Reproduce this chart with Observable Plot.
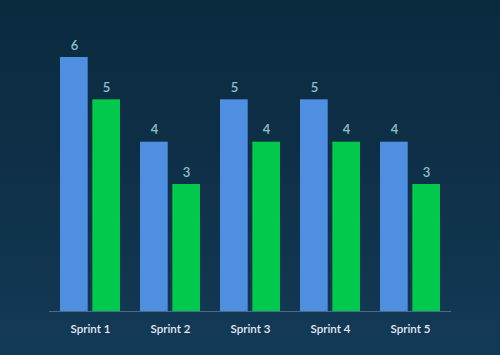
<!DOCTYPE html>
<html>
<head>
<meta charset="utf-8">
<script src="https://cdn.jsdelivr.net/npm/d3@7"></script>
<script src="https://cdn.jsdelivr.net/npm/@observablehq/plot@0.6"></script>
<style>
  html, body { margin: 0; padding: 0; }
  body {
    width: 500px; height: 355px; overflow: hidden;
    background: linear-gradient(180deg, #0a2a3e 0%, #0f3149 55%, #133a57 100%);
  }
  #chart svg { display: block; background: transparent; }
</style>
</head>
<body>
<div id="chart"></div>
<script>
const sprints = ["Sprint 1", "Sprint 2", "Sprint 3", "Sprint 4", "Sprint 5"];
const seriesA = [6, 4, 5, 5, 4];   // blue
const seriesB = [5, 3, 4, 4, 3];   // green

const dataA = sprints.map((s, i) => ({sprint: s, value: seriesA[i]}));
const dataB = sprints.map((s, i) => ({sprint: s, value: seriesB[i]}));

const blue = "#4f8fe2";
const green = "#00c94b";
const labelColor = "#8cc3cc";

const chart = Plot.plot({
  width: 500,
  height: 355,
  marginLeft: 49,
  marginRight: 49,
  marginTop: 57,
  marginBottom: 44,
  style: {background: "transparent", fontFamily: "Lato, 'Open Sans', sans-serif"},
  x: {domain: sprints, paddingInner: 0.25, paddingOuter: 0.125, label: null, tickSize: 0, tickPadding: 13},
  y: {domain: [0, 6], axis: null},
  marks: [
    Plot.barY(dataA, {x: "sprint", y: "value", fill: blue, insetRight: 32.3}),
    Plot.barY(dataB, {x: "sprint", y: "value", fill: green, insetLeft: 32.3}),
    Plot.text(dataA, {x: "sprint", y: "value", text: d => String(d.value), dx: -16, dy: -12, fill: labelColor, fontSize: 13, fontWeight: 600}),
    Plot.text(dataB, {x: "sprint", y: "value", text: d => String(d.value), dx: 16, dy: -12, fill: labelColor, fontSize: 13, fontWeight: 600}),
    Plot.ruleY([0], {stroke: "#4d6b80", strokeWidth: 1})
  ]
});

d3.select(chart).selectAll("g[aria-label^='x-axis'] text")
  .attr("fill", "#e4ebf1").style("font-size", "11.5px").style("font-weight", "600");

document.getElementById("chart").appendChild(chart);
</script>
</body>
</html>
